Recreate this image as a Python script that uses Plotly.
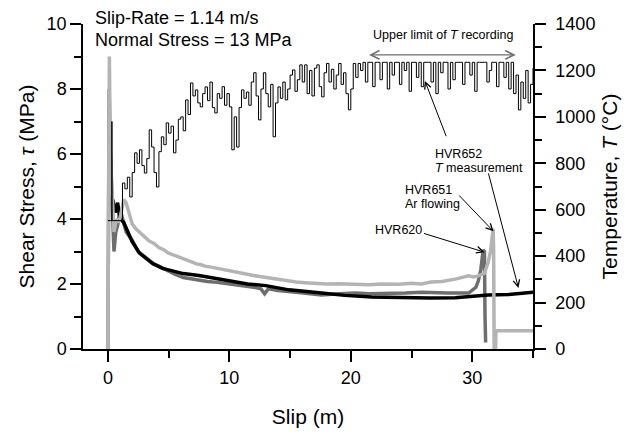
import plotly.graph_objects as go

# ---------------- data ----------------
# Shear stress curves (slip in m, stress in MPa)
hvr651_slip = [0, 0.12, 0.2, 0.35, 0.5, 0.7, 0.9, 1.1, 1.3, 1.5,
               1.8, 2.0, 2.3, 2.6, 3.0, 3.4, 3.8, 4.2, 4.6, 5.0,
               5.5, 6.0, 6.5, 7.0, 7.3, 7.6, 8.0, 8.5, 9.0, 9.5,
               10.2, 11.0, 11.5, 12.0, 12.5, 13.0, 13.5, 14.0, 14.9, 15.5,
               16.2, 17.0, 18.0, 19.0, 20.4, 21.5, 22.5, 23.1, 24.0, 25.0,
               25.8, 26.6, 27.5, 28.6, 29.2, 29.7, 30.1, 30.5, 31.0, 31.3,
               31.5, 31.65, 31.72, 31.76, 31.8, 31.92, 31.95, 35.0]
hvr651_tau = [0, 9.0, 6.0, 4.8, 3.6, 4.0, 3.9, 4.2, 4.6, 4.5,
              4.1, 3.85, 3.7, 3.6, 3.45, 3.32, 3.25, 3.12, 3.05, 2.95,
              2.88, 2.8, 2.72, 2.66, 2.62, 2.6, 2.55, 2.52, 2.48, 2.44,
              2.38, 2.33, 2.3, 2.26, 2.23, 2.2, 2.16, 2.14, 2.08, 2.06,
              2.04, 2.02, 2.0, 2.01, 2.0, 1.98, 2.0, 2.0, 1.99, 2.02,
              2.0, 2.06, 2.08, 2.15, 2.2, 2.25, 2.22, 2.25, 2.33, 2.65,
              3.0, 3.5, 3.7, 3.0, 0.0, 0.0, 0.56, 0.56]

hvr620_slip = [0, 0.1, 0.2, 0.35, 0.5, 0.65, 0.8, 1.0, 1.2, 1.5, 2.0, 2.5, 3.0, 3.4, 3.8, 4.2,
               4.8, 5.5, 6.2, 6.8, 7.5, 8.2, 9.0, 10.2, 11.0, 11.5, 12.0, 12.6, 12.9, 13.2, 14.0,
               15.7, 17.6, 19.0, 20.4, 21.5, 23.0, 24.5, 25.8, 27.0, 28.0, 29.7, 30.3, 30.5,
               30.7, 30.9, 31.0, 31.05, 31.1]
hvr620_tau = [0, 8.0, 6.0, 4.5, 3.0, 3.6, 3.8, 4.3, 4.0, 3.6, 3.35, 3.0, 2.85, 2.74, 2.62, 2.55,
              2.43, 2.3, 2.2, 2.16, 2.12, 2.08, 2.05, 2.0, 1.95, 1.92, 1.9, 1.85, 1.7, 1.85, 1.8,
              1.74, 1.66, 1.7, 1.72, 1.7, 1.7, 1.72, 1.75, 1.73, 1.72, 1.72, 1.9, 2.1,
              2.43, 3.05, 3.0, 1.0, 0.2]

hvr652_slip = [0.4, 0.6, 0.8, 1.0, 1.3, 1.6, 2.0, 2.6, 3.2, 3.7, 4.5, 5.3, 6.2, 7.5,
               9.0, 10.2, 11.5, 13.0, 14.9, 17.6, 19.5, 21.7, 24.5, 26.5, 28.6, 30.0, 31.3,
               33.0, 34.1, 35.0]
hvr652_tau = [4.6, 4.2, 4.5, 4.0, 3.9, 3.66, 3.3, 2.95, 2.78, 2.62, 2.48, 2.4, 2.32, 2.26,
              2.16, 2.1, 2.0, 1.95, 1.82, 1.72, 1.65, 1.6, 1.57, 1.57, 1.58, 1.62, 1.66,
              1.68, 1.72, 1.75]

# HVR652 temperature record (deg C): start segment, then samples every 0.2 m from 1.2 m
temp_start_slip = [0.0, 0.33, 0.33, 0.33, 1.1]
temp_start = [553, 553, 980, 553, 553]
temp_values = [
    715, 690, 740, 655, 760, 845, 800, 858, 790, 758, 820, 944, 870, 760, 698, 850, 914, 880, 974, 930,
    960, 845, 900, 990, 1000, 940, 1073, 1010, 1146, 1090, 1116, 1060, 1043, 1100, 1129, 1070, 1150,
    1040, 1017, 1100, 1080, 1130, 1050, 1100, 1043,
    858, 1000, 870, 1040, 1116, 1080, 1107, 1050, 1150, 1190, 1090, 987, 1120, 1190, 1100, 1043, 1140,
    914, 1060, 1129, 1080, 1150, 1073, 1120, 1180, 1202, 1110, 1160, 1224, 1150,
    1224, 1100, 1200, 1090, 1210, 1224, 1130, 1086, 1190, 1230, 1150, 1205, 1120, 1180, 1230, 1140,
    1190, 1100, 1030, 1120, 1230, 1170, 1230, 1200, 1235, 1150, 1235, 1235, 1130, 1235,
    1235, 1160, 1235, 1235, 1120, 1235, 1180, 1235, 1235, 1140, 1235, 1200, 1235, 1110, 1235, 1235,
    1170, 1235, 1130, 1235, 1235, 1235, 1150, 1235, 1100, 1235, 1190, 1235, 1235, 1120, 1235, 1160,
    1235, 1235, 1235, 1140, 1235, 1235, 1180, 1235, 1110, 1235, 1235, 1235, 1235, 1150, 1200, 1235,
    1235, 1130, 1235, 1235, 1170, 1235, 1120, 1235,
    1100, 1180, 1030, 1150, 1080, 1200, 1060, 1140, 1210]
temp_slip = temp_start_slip + [round(1.2 + 0.2 * i, 1) for i in range(len(temp_values))]
temp = temp_start + temp_values

x_ticks = [0, 10, 20, 30]
tau_ticks = [0, 2, 4, 6, 8, 10]
temp_ticks = [0, 200, 400, 600, 800, 1000, 1200, 1400]

FONT = "Arial, Liberation Sans, Helvetica, sans-serif"

fig = go.Figure()
fig.add_trace(go.Scatter(x=hvr620_slip, y=hvr620_tau, mode="lines", name="HVR620",
                         line=dict(color="#6e6e6e", width=3.5)))
fig.add_trace(go.Scatter(x=hvr652_slip, y=hvr652_tau, mode="lines", name="HVR652",
                         line=dict(color="#000000", width=3.5)))
fig.add_trace(go.Scatter(x=hvr651_slip, y=hvr651_tau, mode="lines", name="HVR651",
                         line=dict(color="#b4b4b4", width=3.5)))
fig.add_trace(go.Scatter(x=temp_slip, y=temp, mode="lines", name="T", yaxis="y2",
                         line=dict(color="#000000", width=1, shape="hv")))

ann = []
def label(x, y, text, xref="x", yref="y", size=12.5, anchor="left"):
    ann.append(dict(x=x, y=y, xref=xref, yref=yref, xanchor=anchor, yanchor="middle",
                    text=text, showarrow=False, font=dict(size=size, color="black")))

def arrow(x, y, ax, ay, yref="y", color="black", both=False, width=1):
    d = dict(x=x, y=y, xref="x", yref=yref, ax=ax, ay=ay, axref="x", ayref=yref,
             text="", showarrow=True, arrowhead=5, arrowsize=1.3, arrowwidth=width,
             arrowcolor=color)
    if both:
        d.update(startarrowhead=5, arrowside="end+start", startarrowsize=1.3)
    ann.append(d)

# header text
label(0.022, 1.018, "Slip-Rate = 1.14 m/s", xref="paper", yref="paper", size=18)
label(0.022, 0.952, "Normal Stress = 13 MPa", xref="paper", yref="paper", size=18)
# upper limit arrow
arrow(21.5, 1267, 33.7, 1267, yref="y2", color="#707070", both=True, width=1.3)
label(27.6, 1354, "Upper limit of <i>T</i> recording", yref="y2", anchor="center")
# HVR652
label(26.8, 6.0, "HVR652")
label(26.8, 5.57, "<i>T</i> measurement")
arrow(26.1, 8.25, 27.9, 6.5)
arrow(33.8, 1.88, 31.3, 5.45)
# HVR651
label(24.3, 4.9, "HVR651")
label(24.3, 4.47, "Ar flowing")
arrow(31.75, 3.62, 28.8, 4.77)
# HVR620
label(21.8, 3.65, "HVR620")
arrow(31.0, 2.98, 25.9, 3.57)

axis_common = dict(showgrid=False, zeroline=False, showline=True, linecolor="black", linewidth=1.5,
                   ticks="outside", ticklen=11, tickwidth=1.5, tickcolor="black", automargin=False,
                   tickfont=dict(size=18, color="black", family=FONT))
minor_common = dict(ticks="outside", ticklen=7, tickwidth=1.5, tickcolor="black")

fig.update_layout(
    width=640, height=433,
    margin=dict(l=83, r=107, t=24, b=84),
    paper_bgcolor="white", plot_bgcolor="white",
    showlegend=False,
    font=dict(family=FONT, color="black"),
    annotations=ann,
    xaxis=dict(range=[-2.05, 35], tickvals=x_ticks, ticklabelstandoff=1,
               minor=dict(dtick=5, tick0=0, **minor_common),
               title=dict(text="Slip (m)", font=dict(size=21), standoff=22),
               **axis_common),
    yaxis=dict(range=[0, 10], tickvals=tau_ticks,
               minor=dict(dtick=1, tick0=0, **minor_common),
               title=dict(text="Shear Stress, <i>τ</i> (MPa)", font=dict(size=21), standoff=6),
               **axis_common),
    yaxis2=dict(range=[0, 1400], tickvals=temp_ticks, overlaying="y", side="right",
                ticklabelstandoff=6,
                minor=dict(dtick=100, tick0=0, **minor_common),
                title=dict(text="Temperature, <i>T</i> (°C)", font=dict(size=21), standoff=8),
                **axis_common),
)

fig.write_html("out.html")
